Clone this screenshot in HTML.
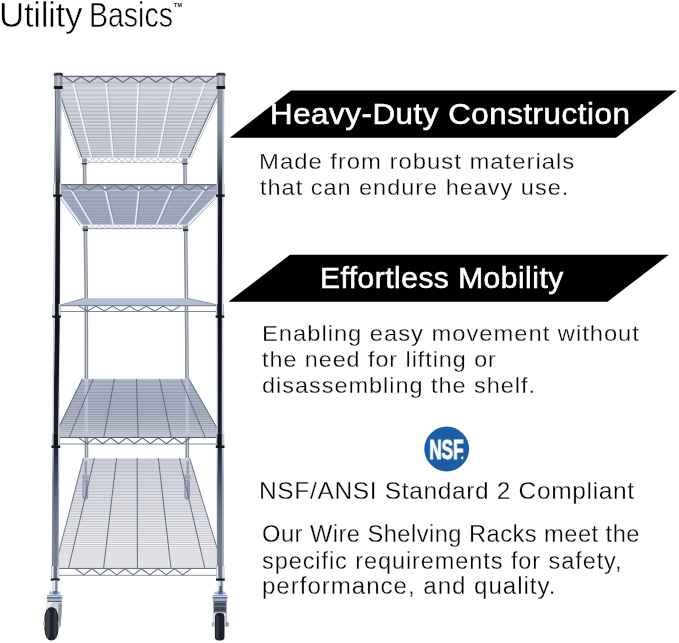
<!DOCTYPE html>
<html><head><meta charset="utf-8"><title>Utility Basics</title>
<style>
html,body{margin:0;padding:0;background:#fff;}
body{width:679px;height:643px;position:relative;overflow:hidden;font-family:"Liberation Sans",sans-serif;}
.t{position:absolute;white-space:pre;transform-origin:0 0;margin:0;padding:0;will-change:transform;}
svg{position:absolute;left:0;top:0;}
</style></head><body>
<svg width="679" height="643" viewBox="0 0 679 643">
<defs>
<linearGradient id="pgA0" gradientUnits="userSpaceOnUse" x1="0" y1="75" x2="0" y2="580">
<stop offset="0" stop-color="#bcc2cf"/><stop offset="0.2" stop-color="#c3c9d6"/><stop offset="0.27" stop-color="#d3d8e4"/><stop offset="0.7" stop-color="#ccd3e2"/><stop offset="0.8" stop-color="#979dad"/><stop offset="1" stop-color="#a3a9b8"/></linearGradient>
<linearGradient id="pgB0" gradientUnits="userSpaceOnUse" x1="0" y1="75" x2="0" y2="580">
<stop offset="0" stop-color="#8f95a4"/><stop offset="0.1" stop-color="#888e9d"/><stop offset="0.17" stop-color="#5a5f6c"/><stop offset="0.235" stop-color="#17191f"/><stop offset="0.5" stop-color="#0f1116"/><stop offset="0.66" stop-color="#191c24"/><stop offset="0.737" stop-color="#1f2330"/><stop offset="0.782" stop-color="#3a4156"/><stop offset="0.82" stop-color="#535a6e"/><stop offset="0.88" stop-color="#6c7386"/><stop offset="1" stop-color="#798091"/></linearGradient>
<linearGradient id="pgC0" gradientUnits="userSpaceOnUse" x1="0" y1="75" x2="0" y2="580">
<stop offset="0" stop-color="#5b616f"/><stop offset="0.2" stop-color="#4b505d"/><stop offset="0.26" stop-color="#c9cfdc"/><stop offset="0.74" stop-color="#c3c9d8"/><stop offset="0.8" stop-color="#6c7282"/><stop offset="1" stop-color="#6a7080"/></linearGradient>
<linearGradient id="pgA1" gradientUnits="userSpaceOnUse" x1="0" y1="75" x2="0" y2="580">
<stop offset="0" stop-color="#bcc2cf"/><stop offset="0.2" stop-color="#c3c9d6"/><stop offset="0.27" stop-color="#d3d8e4"/><stop offset="0.7" stop-color="#ccd3e2"/><stop offset="0.8" stop-color="#979dad"/><stop offset="1" stop-color="#a3a9b8"/></linearGradient>
<linearGradient id="pgB1" gradientUnits="userSpaceOnUse" x1="0" y1="75" x2="0" y2="580">
<stop offset="0" stop-color="#8f95a4"/><stop offset="0.1" stop-color="#888e9d"/><stop offset="0.17" stop-color="#5a5f6c"/><stop offset="0.235" stop-color="#17191f"/><stop offset="0.5" stop-color="#0f1116"/><stop offset="0.66" stop-color="#191c24"/><stop offset="0.737" stop-color="#1f2330"/><stop offset="0.782" stop-color="#3a4156"/><stop offset="0.82" stop-color="#535a6e"/><stop offset="0.88" stop-color="#6c7386"/><stop offset="1" stop-color="#798091"/></linearGradient>
<linearGradient id="pgC1" gradientUnits="userSpaceOnUse" x1="0" y1="75" x2="0" y2="580">
<stop offset="0" stop-color="#5b616f"/><stop offset="0.2" stop-color="#4b505d"/><stop offset="0.26" stop-color="#c9cfdc"/><stop offset="0.74" stop-color="#c3c9d8"/><stop offset="0.8" stop-color="#6c7282"/><stop offset="1" stop-color="#6a7080"/></linearGradient>
<linearGradient id="s1g" gradientUnits="userSpaceOnUse" x1="0" y1="83" x2="0" y2="158"><stop offset="0" stop-color="#cbcdd5"/><stop offset="0.5" stop-color="#b6b9c5"/><stop offset="1" stop-color="#a3a7b6"/></linearGradient>
<linearGradient id="s2g" gradientUnits="userSpaceOnUse" x1="0" y1="190" x2="0" y2="225"><stop offset="0" stop-color="#9fa8ba"/><stop offset="1" stop-color="#909aaf"/></linearGradient>
<linearGradient id="s4g" gradientUnits="userSpaceOnUse" x1="0" y1="379" x2="0" y2="437"><stop offset="0" stop-color="#d6dbe7"/><stop offset="0.3" stop-color="#c3c8d6"/><stop offset="0.6" stop-color="#bec3d1"/><stop offset="0.85" stop-color="#ced2dc"/><stop offset="1" stop-color="#e4e6ec"/></linearGradient>
<linearGradient id="s5g" gradientUnits="userSpaceOnUse" x1="0" y1="458" x2="0" y2="568"><stop offset="0" stop-color="#eaecf3"/><stop offset="0.35" stop-color="#f4f5f8"/><stop offset="1" stop-color="#fcfcfd"/></linearGradient>
</defs>
<polygon points="82.61,158 82.7,165 84.5,300 84.7,460 84.71,470 88.31,470 88.3,460 88.1,300 86.3,165 86.21,158" fill="#868c9b" opacity="1"/><polyline points="84.61,158 84.7,165 86.5,300 86.7,460 86.71,470" fill="none" stroke="#eef0f5" stroke-width="1" opacity="0.70"/>
<polygon points="183.08,158 183.1,160 185,340 185.5,460 185.54,470 189.14,470 189.1,460 188.6,340 186.7,160 186.68,158" fill="#868c9b" opacity="1"/><polyline points="185.08,158 185.1,160 187,340 187.5,460 187.54,470" fill="none" stroke="#eef0f5" stroke-width="1" opacity="0.70"/>
<rect x="81.97" y="157.6" width="5" height="5" fill="#8f95a4"/>
<rect x="81.87" y="162.6" width="5.2" height="1.8" fill="#23262e"/>
<rect x="182.43" y="157.6" width="5" height="5" fill="#8f95a4"/>
<rect x="182.33" y="162.6" width="5.2" height="1.8" fill="#23262e"/>
<rect x="82.86" y="224.3" width="5" height="5" fill="#8f95a4"/>
<rect x="82.76" y="229.3" width="5.2" height="1.8" fill="#23262e"/>
<rect x="183.13" y="224.3" width="5" height="5" fill="#8f95a4"/>
<rect x="183.03" y="229.3" width="5.2" height="1.8" fill="#23262e"/>
<polygon points="59,76.3 220,76.3 223,83 56,83" fill="#cdd0d9"/>
<clipPath id="c1"><polygon points="56,83 223,83 188.8,157.8 81.9,157.8"/><polygon points="59,76.3 220,76.3 223,83 56,83"/></clipPath>
<polygon points="56,83 223,83 188.8,157.8 81.9,157.8" fill="url(#s1g)"/>
<g clip-path="url(#c1)">
<path d="M54 87.96H225M54 92.69H225M54 97.2H225M54 101.51H225M54 105.64H225M54 109.58H225M54 113.37H225M54 117H225M54 120.48H225M54 123.83H225M54 127.04H225M54 130.14H225M54 133.12H225M54 135.99H225M54 138.76H225M54 141.44H225M54 144.02H225M54 146.51H225M54 148.92H225M54 151.25H225M54 153.5H225M54 155.69H225" stroke="#dfe1e8" stroke-width="1.5" opacity="0.75" fill="none"/>
<line x1="73.64" y1="79.5" x2="92.6" y2="157.8" stroke="#a2a8bb" stroke-width="1.2" opacity="0.55"/>
<line x1="72.24" y1="79.5" x2="91.5" y2="157.8" stroke="#f2f4f9" stroke-width="1.5"/>
<line x1="107.07" y1="79.5" x2="114.2" y2="157.8" stroke="#a2a8bb" stroke-width="1.2" opacity="0.55"/>
<line x1="105.67" y1="79.5" x2="113.1" y2="157.8" stroke="#f2f4f9" stroke-width="1.5"/>
<line x1="139.95" y1="79.5" x2="136.2" y2="157.8" stroke="#a2a8bb" stroke-width="1.2" opacity="0.55"/>
<line x1="138.55" y1="79.5" x2="135.1" y2="157.8" stroke="#f2f4f9" stroke-width="1.5"/>
<line x1="174.17" y1="79.5" x2="158.8" y2="157.8" stroke="#a2a8bb" stroke-width="1.2" opacity="0.55"/>
<line x1="172.77" y1="79.5" x2="157.7" y2="157.8" stroke="#f2f4f9" stroke-width="1.5"/>
<line x1="207.44" y1="79.5" x2="179.3" y2="157.8" stroke="#a2a8bb" stroke-width="1.2" opacity="0.55"/>
<line x1="206.04" y1="79.5" x2="178.2" y2="157.8" stroke="#f2f4f9" stroke-width="1.5"/>
</g>
<line x1="54.1" y1="83.5" x2="80" y2="159" stroke="#c4c9d6" stroke-width="1"/>
<line x1="224.9" y1="83.5" x2="190.7" y2="159" stroke="#c4c9d6" stroke-width="1"/>
<line x1="56" y1="83" x2="81.9" y2="157.8" stroke="#737a8e" stroke-width="1.3"/>
<line x1="223" y1="83" x2="188.8" y2="157.8" stroke="#737a8e" stroke-width="1.3"/>
<line x1="82" y1="158" x2="188.6" y2="158" stroke="#eef0f5" stroke-width="1.2"/>
<line x1="82" y1="162.6" x2="188.6" y2="162.6" stroke="#b4b9c6" stroke-width="0.9"/>
<polyline points="86,158.5 89.27,162.2 92.53,158.5 95.8,162.2 99.07,158.5 102.33,162.2 105.6,158.5 108.87,162.2 112.13,158.5 115.4,162.2 118.67,158.5 121.93,162.2 125.2,158.5 128.47,162.2 131.73,158.5 135,162.2 138.27,158.5 141.53,162.2 144.8,158.5 148.07,162.2 151.33,158.5 154.6,162.2 157.87,158.5 161.13,162.2 164.4,158.5 167.67,162.2 170.93,158.5 174.2,162.2 177.47,158.5 180.73,162.2 184,158.5" fill="none" stroke="#8c92a2" stroke-width="0.6" stroke-linejoin="round"/>
<line x1="61" y1="76.3" x2="218" y2="76.3" stroke="#636978" stroke-width="1.3"/>
<line x1="61" y1="82.7" x2="218" y2="82.7" stroke="#a4a9b9" stroke-width="0.8"/>
<polyline points="64.5,76.8 72.83,82.3 81.17,76.8 89.5,82.3 97.83,76.8 106.17,82.3 114.5,76.8 122.83,82.3 131.17,76.8 139.5,82.3 147.83,76.8 156.17,82.3 164.5,76.8 172.83,82.3 181.17,76.8 189.5,82.3 197.83,76.8 206.17,82.3 214.5,76.8" fill="none" stroke="#5f6575" stroke-width="1.05" stroke-linejoin="round"/>
<polygon points="61,184.6 217.4,184.6 221,190.6 57,190.6" fill="#a0a9bb"/>
<clipPath id="c2"><polygon points="57,190.6 221,190.6 186.7,225 82,225"/><polygon points="61,184.6 217.4,184.6 221,190.6 57,190.6"/></clipPath>
<polygon points="57,190.6 221,190.6 186.7,225 82,225" fill="url(#s2g)"/>
<g clip-path="url(#c2)">
<path d="M55 195.26H223M55 199.48H223M55 203.33H223M55 206.85H223M55 210.08H223M55 213.05H223M55 215.81H223M55 218.36H223M55 220.73H223M55 222.94H223" stroke="#b1b9ca" stroke-width="1.0" opacity="0.7" fill="none"/>
<line x1="70.38" y1="186.2" x2="93.2" y2="225" stroke="#76819b" stroke-width="1.2" opacity="0.55"/>
<line x1="68.98" y1="186.2" x2="92.1" y2="225" stroke="#eceff7" stroke-width="1.6"/>
<line x1="105.78" y1="186.2" x2="114.5" y2="225" stroke="#76819b" stroke-width="1.2" opacity="0.55"/>
<line x1="104.38" y1="186.2" x2="113.4" y2="225" stroke="#eceff7" stroke-width="1.6"/>
<line x1="140.66" y1="186.2" x2="136.3" y2="225" stroke="#76819b" stroke-width="1.2" opacity="0.55"/>
<line x1="139.26" y1="186.2" x2="135.2" y2="225" stroke="#eceff7" stroke-width="1.6"/>
<line x1="174.82" y1="186.2" x2="157.6" y2="225" stroke="#76819b" stroke-width="1.2" opacity="0.55"/>
<line x1="173.42" y1="186.2" x2="156.5" y2="225" stroke="#eceff7" stroke-width="1.6"/>
<line x1="208.45" y1="186.2" x2="178.6" y2="225" stroke="#76819b" stroke-width="1.2" opacity="0.55"/>
<line x1="207.05" y1="186.2" x2="177.5" y2="225" stroke="#eceff7" stroke-width="1.6"/>
</g>
<line x1="55.4" y1="191.1" x2="80.4" y2="226.2" stroke="#9aa3b8" stroke-width="1"/>
<line x1="222.6" y1="191.1" x2="188.3" y2="226.2" stroke="#9aa3b8" stroke-width="1"/>
<line x1="57" y1="190.6" x2="82" y2="225" stroke="#dfe3ec" stroke-width="1.2"/>
<line x1="221" y1="190.6" x2="186.7" y2="225" stroke="#dfe3ec" stroke-width="1.2"/>
<line x1="82" y1="225.2" x2="186.6" y2="225.2" stroke="#eef1f6" stroke-width="1.3"/>
<line x1="82" y1="228.6" x2="186.6" y2="228.6" stroke="#6f768a" stroke-width="0.8"/>
<polyline points="86,225.7 89.23,228.2 92.47,225.7 95.7,228.2 98.93,225.7 102.17,228.2 105.4,225.7 108.63,228.2 111.87,225.7 115.1,228.2 118.33,225.7 121.57,228.2 124.8,225.7 128.03,228.2 131.27,225.7 134.5,228.2 137.73,225.7 140.97,228.2 144.2,225.7 147.43,228.2 150.67,225.7 153.9,228.2 157.13,225.7 160.37,228.2 163.6,225.7 166.83,228.2 170.07,225.7 173.3,228.2 176.53,225.7 179.77,228.2 183,225.7" fill="none" stroke="#8790a5" stroke-width="0.6" stroke-linejoin="round"/>
<line x1="61" y1="184.6" x2="217.6" y2="184.6" stroke="#656d82" stroke-width="1.3"/>
<line x1="61" y1="190.6" x2="217.6" y2="190.6" stroke="#bfc7d8" stroke-width="0.8"/>
<polyline points="64.5,185.1 72.81,190.2 81.11,185.1 89.42,190.2 97.72,185.1 106.03,190.2 114.33,185.1 122.64,190.2 130.94,185.1 139.25,190.2 147.56,185.1 155.86,190.2 164.17,185.1 172.47,190.2 180.78,185.1 189.08,190.2 197.39,185.1 205.69,190.2 214,185.1" fill="none" stroke="#6a738c" stroke-width="1.05" stroke-linejoin="round"/>
<clipPath id="c3"><polygon points="59.5,305.3 219.5,305.3 186.5,298.2 84.5,298.2"/></clipPath>
<polygon points="59.5,305.3 219.5,305.3 186.5,298.2 84.5,298.2" fill="#b1bbce"/>
<g clip-path="url(#c3)">
<path d="M57.5 302.18H221.5M57.5 299.92H221.5" stroke="#c5ccdc" stroke-width="0.7" opacity="0.7" fill="none"/>
</g>
<line x1="59.5" y1="305.3" x2="84.5" y2="298.2" stroke="#8f99b0" stroke-width="1.0"/>
<line x1="219.5" y1="305.3" x2="186.5" y2="298.2" stroke="#8f99b0" stroke-width="1.0"/>
<line x1="60" y1="305.6" x2="218" y2="305.6" stroke="#7f89a0" stroke-width="1.2"/>
<line x1="60" y1="311.5" x2="218" y2="311.5" stroke="#85888f" stroke-width="1.0"/>
<polyline points="79,306.1 87.42,311.1 95.83,306.1 104.25,311.1 112.67,306.1 121.08,311.1 129.5,306.1 137.92,311.1 146.33,306.1 154.75,311.1 163.17,306.1 171.58,311.1 180,306.1" fill="none" stroke="#626a80" stroke-width="1.1" stroke-linejoin="round"/>
<clipPath id="c4"><polygon points="54,437.2 222.3,437.2 188.7,378.7 82.4,378.7"/></clipPath>
<polygon points="54,437.2 222.3,437.2 188.7,378.7 82.4,378.7" fill="url(#s4g)"/>
<g clip-path="url(#c4)">
<path d="M52 435.12H224.3M52 433.08H224.3M52 431.08H224.3M52 429.12H224.3M52 427.19H224.3M52 425.29H224.3M52 423.42H224.3M52 421.59H224.3M52 419.78H224.3M52 418H224.3M52 416.25H224.3M52 414.53H224.3M52 412.82H224.3M52 411.15H224.3M52 409.49H224.3M52 407.85H224.3M52 406.24H224.3M52 404.65H224.3M52 403.07H224.3M52 401.52H224.3M52 399.98H224.3M52 398.46H224.3M52 396.96H224.3M52 395.47H224.3M52 394H224.3M52 392.54H224.3M52 391.1H224.3M52 389.67H224.3M52 388.26H224.3M52 386.86H224.3M52 385.47H224.3M52 384.09H224.3M52 382.73H224.3M52 381.37H224.3M52 380.03H224.3" stroke="#70788c" stroke-width="0.7" opacity="0.85" fill="none"/>
<polygon points="84.7,378 84.77,440 88.17,440 88.1,378" fill="#c9cedb" opacity="0.55"/>
<polygon points="185.26,378 185.52,440 188.92,440 188.66,378" fill="#c9cedb" opacity="0.55"/>
<line x1="69.3" y1="437.2" x2="93.2" y2="378.7" stroke="#626b84" stroke-width="1.0"/>
<line x1="103.8" y1="437.2" x2="114.4" y2="378.7" stroke="#626b84" stroke-width="1.0"/>
<line x1="138.1" y1="437.2" x2="136.5" y2="378.7" stroke="#626b84" stroke-width="1.0"/>
<line x1="171.2" y1="437.2" x2="159.5" y2="378.7" stroke="#626b84" stroke-width="1.0"/>
<line x1="205.1" y1="437.2" x2="180.8" y2="378.7" stroke="#626b84" stroke-width="1.0"/>
</g>
<line x1="54" y1="437.2" x2="82.4" y2="378.7" stroke="#6b748b" stroke-width="1.15"/>
<line x1="222.3" y1="437.2" x2="188.7" y2="378.7" stroke="#6b748b" stroke-width="1.15"/>
<line x1="59" y1="437.4" x2="218" y2="437.4" stroke="#566077" stroke-width="1.3"/>
<line x1="59" y1="444" x2="218" y2="444" stroke="#7d818b" stroke-width="1.0"/>
<polyline points="79,437.9 86.93,443.6 94.86,437.9 102.79,443.6 110.71,437.9 118.64,443.6 126.57,437.9 134.5,443.6 142.43,437.9 150.36,443.6 158.29,437.9 166.21,443.6 174.14,437.9 182.07,443.6 190,437.9" fill="none" stroke="#535b72" stroke-width="1.1" stroke-linejoin="round"/>
<clipPath id="c5"><polygon points="54.7,568.2 223.2,568.2 189.6,458 83.5,458"/></clipPath>
<polygon points="54.7,568.2 223.2,568.2 189.6,458 83.5,458" fill="url(#s5g)"/>
<g clip-path="url(#c5)">
<path d="M52.7 566.11H225.2M52.7 564.05H225.2M52.7 562.01H225.2M52.7 559.98H225.2M52.7 557.98H225.2M52.7 556H225.2M52.7 554.03H225.2M52.7 552.09H225.2M52.7 550.16H225.2M52.7 548.25H225.2M52.7 546.36H225.2M52.7 544.49H225.2M52.7 542.63H225.2M52.7 540.79H225.2M52.7 538.96H225.2M52.7 537.15H225.2M52.7 535.35H225.2M52.7 533.57H225.2M52.7 531.81H225.2M52.7 530.05H225.2M52.7 528.31H225.2M52.7 526.59H225.2M52.7 524.88H225.2M52.7 523.18H225.2M52.7 521.49H225.2M52.7 519.82H225.2M52.7 518.15H225.2M52.7 516.5H225.2M52.7 514.87H225.2M52.7 513.24H225.2M52.7 511.62H225.2M52.7 510.02H225.2M52.7 508.42H225.2M52.7 506.84H225.2M52.7 505.27H225.2M52.7 503.7H225.2M52.7 502.15H225.2M52.7 500.6H225.2M52.7 499.07H225.2M52.7 497.54H225.2M52.7 496.03H225.2M52.7 494.52H225.2M52.7 493.02H225.2M52.7 491.53H225.2M52.7 490.05H225.2M52.7 488.58H225.2M52.7 487.11H225.2M52.7 485.66H225.2M52.7 484.21H225.2M52.7 482.77H225.2M52.7 481.33H225.2M52.7 479.91H225.2M52.7 478.49H225.2M52.7 477.08H225.2M52.7 475.67H225.2M52.7 474.27H225.2M52.7 472.88H225.2M52.7 471.5H225.2M52.7 470.12H225.2M52.7 468.75H225.2M52.7 467.39H225.2M52.7 466.03H225.2M52.7 464.67H225.2M52.7 463.33H225.2M52.7 461.99H225.2M52.7 460.65H225.2M52.7 459.32H225.2" stroke="#878b9a" stroke-width="0.6" opacity="0.8" fill="none"/>
<g opacity="0.7">
<rect x="84.7" y="461" width="2.2" height="13" fill="#7d869d"/>
<rect x="82.1" y="474.5" width="6.6" height="5" rx="1" fill="#8c95ab"/>
<rect x="82.4" y="479.5" width="5.8" height="20" rx="2.4" fill="#737c94"/>
<rect x="83.7" y="481" width="1.5" height="16" rx="0.7" fill="#aeb6ca"/>
</g>
<g opacity="0.7">
<rect x="186.6" y="461" width="2.2" height="13" fill="#7d869d"/>
<rect x="184" y="474.5" width="6.6" height="5" rx="1" fill="#8c95ab"/>
<rect x="184.3" y="479.5" width="5.8" height="20" rx="2.4" fill="#737c94"/>
<rect x="185.6" y="481" width="1.5" height="16" rx="0.7" fill="#aeb6ca"/>
</g>
<line x1="68.6" y1="568.2" x2="94.4" y2="458" stroke="#646c84" stroke-width="1.0"/>
<line x1="103.6" y1="568.2" x2="116.6" y2="458" stroke="#646c84" stroke-width="1.0"/>
<line x1="137.4" y1="568.2" x2="137.2" y2="458" stroke="#646c84" stroke-width="1.0"/>
<line x1="171" y1="568.2" x2="158.3" y2="458" stroke="#646c84" stroke-width="1.0"/>
<line x1="204.8" y1="568.2" x2="179.5" y2="458" stroke="#646c84" stroke-width="1.0"/>
</g>
<line x1="54.7" y1="568.2" x2="83.5" y2="458" stroke="#7a8196" stroke-width="1.1"/>
<line x1="223.2" y1="568.2" x2="189.6" y2="458" stroke="#7a8196" stroke-width="1.1"/>
<line x1="58.5" y1="568.3" x2="218" y2="568.3" stroke="#6d7488" stroke-width="1.3"/>
<line x1="58.5" y1="575.3" x2="218" y2="575.3" stroke="#8c9099" stroke-width="1.0"/>
<polyline points="75.5,568.8 83.75,574.9 92,568.8 100.25,574.9 108.5,568.8 116.75,574.9 125,568.8 133.25,574.9 141.5,568.8 149.75,574.9 158,568.8 166.25,574.9 174.5,568.8 182.75,574.9 191,568.8" fill="none" stroke="#6b7285" stroke-width="1.1" stroke-linejoin="round"/>
<polygon points="54.88,75 53.89,200 53,320 52.44,430 51.67,580 58.67,580 59.44,430 60,320 60.89,200 61.88,75" fill="url(#pgA0)"/>
<polygon points="56.5,75 55.65,200 54.95,320 53.4,430 53.5,580 57.5,580 58.1,430 59.65,320 60.05,200 60.3,75" fill="url(#pgB0)"/>
<polygon points="55.38,75 54.39,200 53.5,320 52.94,430 52.17,580 52.97,580 53.74,430 54.3,320 55.19,200 56.18,75" fill="url(#pgC0)"/>
<polygon points="217.39,75 216.84,200 216.44,320 216.64,430 216.91,580 223.91,580 223.64,430 223.44,320 223.84,200 224.39,75" fill="url(#pgA1)"/>
<polygon points="218.8,75 217.7,200 217.1,320 217.05,430 218.1,580 222.1,580 221.75,430 221.8,320 222.1,200 222.6,75" fill="url(#pgB1)"/>
<polygon points="217.89,75 217.34,200 216.94,320 217.14,430 217.41,580 218.21,580 217.94,430 217.74,320 218.14,200 218.69,75" fill="url(#pgC1)"/>
<path d="M53.79 76.2 L53.79 74.6 Q53.79 72.8 55.99 72.8 L60.79 72.8 Q62.99 72.8 62.99 74.6 L62.99 76.2 Z" fill="#30333c"/>
<rect x="54.33" y="75.6" width="8" height="11.2" fill="#868c9a"/>
<rect x="54.83" y="75.6" width="1.5" height="11.2" fill="#9da2af"/>
<rect x="56.63" y="75.6" width="3.4" height="11.2" fill="#b6bac5"/>
<rect x="60.43" y="75.6" width="1.5" height="11.2" fill="#8d93a1"/>
<rect x="53.93" y="86" width="8.8" height="2.9" rx="0.6" fill="#14161b"/>
<rect x="53.48" y="183" width="8" height="12.3" fill="#9ba1b1"/>
<rect x="53.98" y="183" width="1.5" height="12.3" fill="#e9ecf3"/>
<rect x="55.7" y="183" width="4.4" height="12.3" fill="#2a2d36"/>
<rect x="59.58" y="183" width="1.5" height="12.3" fill="#cfd4e0"/>
<rect x="53.08" y="194.5" width="8.8" height="2.3" rx="0.6" fill="#14161b"/>
<rect x="52.55" y="304" width="8" height="12.2" fill="#8d94a6"/>
<rect x="53.05" y="304" width="1.5" height="12.2" fill="#dfe3ee"/>
<rect x="55.15" y="304" width="4.4" height="12.2" fill="#101217"/>
<rect x="58.65" y="304" width="1.5" height="12.2" fill="#c9cfde"/>
<rect x="52.15" y="315.4" width="8.8" height="2.3" rx="0.6" fill="#14161b"/>
<rect x="51.89" y="433.8" width="8" height="12.6" fill="#8d94a6"/>
<rect x="52.39" y="433.8" width="1.5" height="12.6" fill="#dfe3ee"/>
<rect x="53.53" y="433.8" width="4.4" height="12.6" fill="#101217"/>
<rect x="57.99" y="433.8" width="1.5" height="12.6" fill="#c9cfde"/>
<rect x="51.49" y="445.6" width="8.8" height="2.3" rx="0.6" fill="#14161b"/>
<rect x="51.21" y="566.2" width="8" height="13" fill="#a4aab9"/>
<rect x="51.71" y="566.2" width="1.5" height="13" fill="#eef0f6"/>
<rect x="53.81" y="566.2" width="3.4" height="13" fill="#6a7080"/>
<rect x="57.31" y="566.2" width="1.5" height="13" fill="#d9dde7"/>
<rect x="50.81" y="578.4" width="8.8" height="2.3" rx="0.6" fill="#14161b"/>
<path d="M216.3 76.2 L216.3 74.6 Q216.3 72.8 218.5 72.8 L223.3 72.8 Q225.5 72.8 225.5 74.6 L225.5 76.2 Z" fill="#30333c"/>
<rect x="216.86" y="75.6" width="8" height="11.2" fill="#868c9a"/>
<rect x="217.36" y="75.6" width="1.5" height="11.2" fill="#9da2af"/>
<rect x="219.16" y="75.6" width="3.4" height="11.2" fill="#b6bac5"/>
<rect x="222.96" y="75.6" width="1.5" height="11.2" fill="#8d93a1"/>
<rect x="216.46" y="86" width="8.8" height="2.9" rx="0.6" fill="#14161b"/>
<rect x="216.39" y="183" width="8" height="12.3" fill="#9ba1b1"/>
<rect x="216.89" y="183" width="1.5" height="12.3" fill="#e9ecf3"/>
<rect x="217.77" y="183" width="4.4" height="12.3" fill="#2a2d36"/>
<rect x="222.49" y="183" width="1.5" height="12.3" fill="#cfd4e0"/>
<rect x="215.99" y="194.5" width="8.8" height="2.3" rx="0.6" fill="#14161b"/>
<rect x="215.92" y="304" width="8" height="12.2" fill="#8d94a6"/>
<rect x="216.42" y="304" width="1.5" height="12.2" fill="#dfe3ee"/>
<rect x="217.29" y="304" width="4.4" height="12.2" fill="#101217"/>
<rect x="222.02" y="304" width="1.5" height="12.2" fill="#c9cfde"/>
<rect x="215.52" y="315.4" width="8.8" height="2.3" rx="0.6" fill="#14161b"/>
<rect x="216.15" y="433.8" width="8" height="12.6" fill="#8d94a6"/>
<rect x="216.65" y="433.8" width="1.5" height="12.6" fill="#dfe3ee"/>
<rect x="217.25" y="433.8" width="4.4" height="12.6" fill="#101217"/>
<rect x="222.25" y="433.8" width="1.5" height="12.6" fill="#c9cfde"/>
<rect x="215.75" y="445.6" width="8.8" height="2.3" rx="0.6" fill="#14161b"/>
<rect x="216.4" y="566.2" width="8" height="13" fill="#a4aab9"/>
<rect x="216.9" y="566.2" width="1.5" height="13" fill="#eef0f6"/>
<rect x="218.37" y="566.2" width="3.4" height="13" fill="#6a7080"/>
<rect x="222.5" y="566.2" width="1.5" height="13" fill="#d9dde7"/>
<rect x="216" y="578.4" width="8.8" height="2.3" rx="0.6" fill="#14161b"/>
<rect x="52.6" y="580.5" width="5.3" height="12" fill="#a9afbd"/>
<rect x="53.3" y="580.5" width="1.5" height="12" fill="#f0f2f6"/>
<rect x="55.6" y="580.5" width="1.2" height="12" fill="#767c8b"/>
<rect x="49" y="591.4" width="11.2" height="3.4" rx="1.2" fill="#b2bacd"/>
<rect x="53.2" y="591" width="4.4" height="3.8" fill="#4173b8"/>
<rect x="46.7" y="594.4" width="15.5" height="3.8" rx="1.4" fill="#d3d9e6"/>
<rect x="47.4" y="595" width="14" height="1.1" fill="#8fa0c2"/>
<rect x="46.9" y="597.3" width="15.2" height="1.4" fill="#3a404d"/>
<rect x="47.4" y="598.6" width="14.4" height="3.2" fill="#aab2c4"/>
<rect x="47.4" y="600.9" width="14.4" height="1.2" fill="#5a6172"/>
<path d="M46.4 602 L62.3 602 L62 613 L60.4 628 L57.6 628 L57.6 611 L51 606.5 L46 613 Z" fill="#cdd1db"/>
<path d="M58.4 603.5 L61.8 603.5 L61.4 614 L60.2 626 L58.4 626 Z" fill="#8b92a3"/>
<path d="M46.4 602 L52.5 602 L47.4 611.5 L46 613 Z" fill="#e9ecf2"/>
<rect x="44.5" y="606.9" width="13.9" height="33.7" rx="6.9" ry="11" fill="#20232c"/>
<rect x="45.6" y="609.5" width="4.6" height="28.5" rx="2.3" ry="9" fill="#3b404b"/>
<rect x="53.6" y="609" width="3.6" height="29.5" rx="1.8" ry="9" fill="#343843"/>
<rect x="57.8" y="621.5" width="3.2" height="4.6" rx="1" fill="#9aa0ad"/>
<rect x="42.8" y="621.8" width="2.2" height="3.6" rx="1" fill="#b5bac5"/>
<rect x="217.8" y="581" width="5.4" height="11.5" fill="#a9afbd"/>
<rect x="218.4" y="581" width="1.4" height="11.5" fill="#f0f2f6"/>
<rect x="220.8" y="581" width="1.3" height="11.5" fill="#767c8b"/>
<rect x="219.5" y="586" width="1.9" height="7" fill="#3f4554"/>
<rect x="214.6" y="591.4" width="11" height="3.4" rx="1.2" fill="#b2bacd"/>
<rect x="218.4" y="591" width="4.4" height="3.8" fill="#3c68a8"/>
<rect x="212.5" y="594.4" width="15" height="3.8" rx="1.4" fill="#d3d9e6"/>
<rect x="213.2" y="595" width="13.6" height="1.1" fill="#8fa0c2"/>
<rect x="212.7" y="597.3" width="14.6" height="1.4" fill="#3a404d"/>
<rect x="213" y="598.6" width="14" height="3.4" fill="#aab2c4"/>
<rect x="213" y="600.9" width="14" height="1.2" fill="#5a6172"/>
<rect x="212.8" y="602" width="1.7" height="25" fill="#d2d6df"/>
<rect x="225.4" y="602" width="1.7" height="25" fill="#b3b9c6"/>
<rect x="213.8" y="602.2" width="12.2" height="11" rx="0.8" fill="#3f465a"/>
<rect x="213.8" y="605.6" width="12.2" height="1.3" fill="#6d7589"/>
<rect x="214.6" y="611.6" width="10.6" height="1.4" fill="#9aa2b6"/>
<rect x="214.9" y="612.9" width="9.6" height="27.6" rx="3.8" fill="#1d2029"/>
<rect x="216.2" y="615" width="2.4" height="23.5" rx="1.2" fill="#353a45"/>
<rect x="211.8" y="622.2" width="2.8" height="4.4" rx="1" fill="#a6acb9"/>
<rect x="225.6" y="622.2" width="3.2" height="4.4" rx="1" fill="#8f95a3"/>
</svg>
<svg width="679" height="643" viewBox="0 0 679 643">
<polygon points="291,90.6 676.8,90.6 616,137.7 229.8,137.7" fill="#000"/>
<polygon points="290,254.8 668.8,254.8 607.5,301.8 228.5,301.8" fill="#000"/>
<circle cx="446.7" cy="449" r="22.4" fill="#1b5ea6"/>
<text x="446.3" y="459.3" font-family="Liberation Sans, sans-serif" font-weight="700" font-size="27.6" fill="#fff" text-anchor="middle" transform="translate(446.3 0) scale(0.62 1) translate(-446.3 0)" stroke="#fff" stroke-width="0.9">NSF</text>
<rect x="461.3" y="456.6" width="2" height="2.6" fill="#fff"/>
</svg>
<div class="t" style="left:-1.50px;top:-5px;font-size:34.5px;line-height:41.4px;color:#000;transform:scale(1.0142,1.0000);letter-spacing:-0.35px;-webkit-text-stroke:0.5px #fff;">Utility</div>
<div class="t" style="left:89.00px;top:-5px;font-size:28.2px;line-height:33.84px;color:#000;transform:scale(1.0111,1.2234);-webkit-text-stroke:0.45px #fff;">Basics</div>
<div class="t" style="left:270.22px;top:97px;font-size:29px;line-height:34.8px;color:#fff;transform:scale(1.0794,1.0000);letter-spacing:0.5px;-webkit-text-stroke:0.6px #fff;">Heavy-Duty Construction</div>
<div class="t" style="left:259.35px;top:149px;font-size:22px;line-height:26.4px;color:#000;transform:scale(1.0859,1.0000);letter-spacing:0.9px;-webkit-text-stroke:0.3px #fff;">Made from robust materials</div>
<div class="t" style="left:260.25px;top:175px;font-size:22px;line-height:26.4px;color:#000;transform:scale(1.0707,1.0000);letter-spacing:0.9px;-webkit-text-stroke:0.3px #fff;">that can endure heavy use.</div>
<div class="t" style="left:320.38px;top:261px;font-size:29px;line-height:34.8px;color:#fff;transform:scale(1.0318,1.0000);letter-spacing:0.5px;-webkit-text-stroke:0.6px #fff;">Effortless Mobility</div>
<div class="t" style="left:261.88px;top:321px;font-size:22px;line-height:26.4px;color:#000;transform:scale(1.0801,1.0000);letter-spacing:0.9px;-webkit-text-stroke:0.3px #fff;">Enabling easy movement without</div>
<div class="t" style="left:262.25px;top:347px;font-size:22px;line-height:26.4px;color:#000;transform:scale(1.0612,1.0000);letter-spacing:0.9px;-webkit-text-stroke:0.3px #fff;">the need for lifting or</div>
<div class="t" style="left:262.44px;top:373px;font-size:22px;line-height:26.4px;color:#000;transform:scale(1.0687,1.0000);letter-spacing:0.9px;-webkit-text-stroke:0.3px #fff;">disassembling the shelf.</div>
<div class="t" style="left:259.06px;top:478px;font-size:23.2px;line-height:27.84px;color:#000;transform:scale(1.0584,1.0000);letter-spacing:0.6px;-webkit-text-stroke:0.3px #fff;">NSF/ANSI Standard 2 Compliant</div>
<div class="t" style="left:262.08px;top:521px;font-size:23px;line-height:27.6px;color:#000;transform:scale(1.0292,1.0000);letter-spacing:0.45px;-webkit-text-stroke:0.3px #fff;">Our Wire Shelving Racks meet the</div>
<div class="t" style="left:262.10px;top:548px;font-size:23px;line-height:27.6px;color:#000;transform:scale(1.0221,1.0000);letter-spacing:0.9px;-webkit-text-stroke:0.3px #fff;">specific requirements for safety,</div>
<div class="t" style="left:262.00px;top:573px;font-size:23px;line-height:27.6px;color:#000;transform:scale(1.0499,1.0000);letter-spacing:0.9px;-webkit-text-stroke:0.3px #fff;">performance, and quality.</div>
<div class="t" style="left:174.2px;top:2px;font-size:5.4px;line-height:6px;color:#111;letter-spacing:0.15px;font-weight:700;">TM</div>
</body></html>
